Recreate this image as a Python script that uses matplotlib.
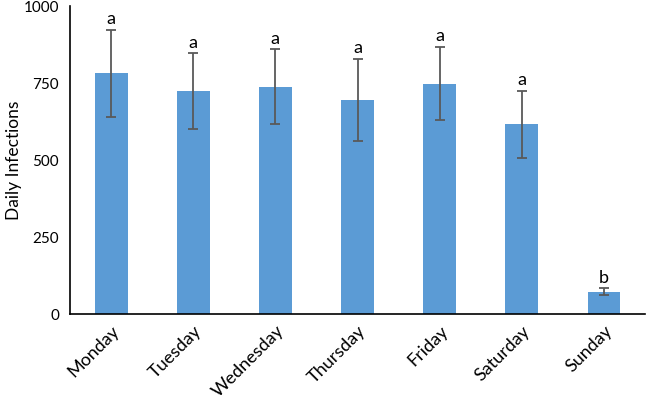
import matplotlib

matplotlib.use("Agg")
import matplotlib.pyplot as plt

days = ["Monday", "Tuesday", "Wednesday", "Thursday", "Friday", "Saturday", "Sunday"]
infections = [782, 724, 739, 697, 749, 617, 74]
errors = [142, 123, 121, 133, 118, 108, 10]
letters = ["a", "a", "a", "a", "a", "a", "b"]

plt.rcParams["font.family"] = ["Lato", "DejaVu Sans"]

fig = plt.figure(figsize=(6.47, 4.03), dpi=100)
ax = fig.add_axes([70 / 647, 1 - 314.3 / 403, 575 / 647, 308 / 403])

x = range(len(days))
ax.bar(x, infections, width=0.4, color="#5b9bd5", zorder=2)
ax.errorbar(x, infections, yerr=errors, fmt="none", ecolor="#595959",
            elinewidth=1.3, capsize=3.5, capthick=1.3, zorder=3)

for xi, v, e, lab in zip(x, infections, errors, letters):
    ax.annotate(lab, (xi, v + e), xytext=(0, 2), textcoords="offset points",
                ha="center", va="bottom", fontsize=13)

ax.set_xlim(-0.5, len(days) - 0.5)
ax.set_ylim(0, 1000)
ax.set_yticks([0, 250, 500, 750, 1000])
ax.set_xticks(list(x))
ax.set_xticklabels(days, rotation=45, ha="right", rotation_mode="anchor", fontsize=13)
ax.tick_params(axis="y", labelsize=11, length=0, pad=8)
ax.tick_params(axis="x", length=0, pad=6)
ax.set_ylabel("Daily Infections", fontsize=12.5, labelpad=1)

for s in ["top", "right"]:
    ax.spines[s].set_visible(False)
for s in ["left", "bottom"]:
    ax.spines[s].set_linewidth(1.2)
    ax.spines[s].set_color("black")

fig.savefig("out.png", dpi=100)
